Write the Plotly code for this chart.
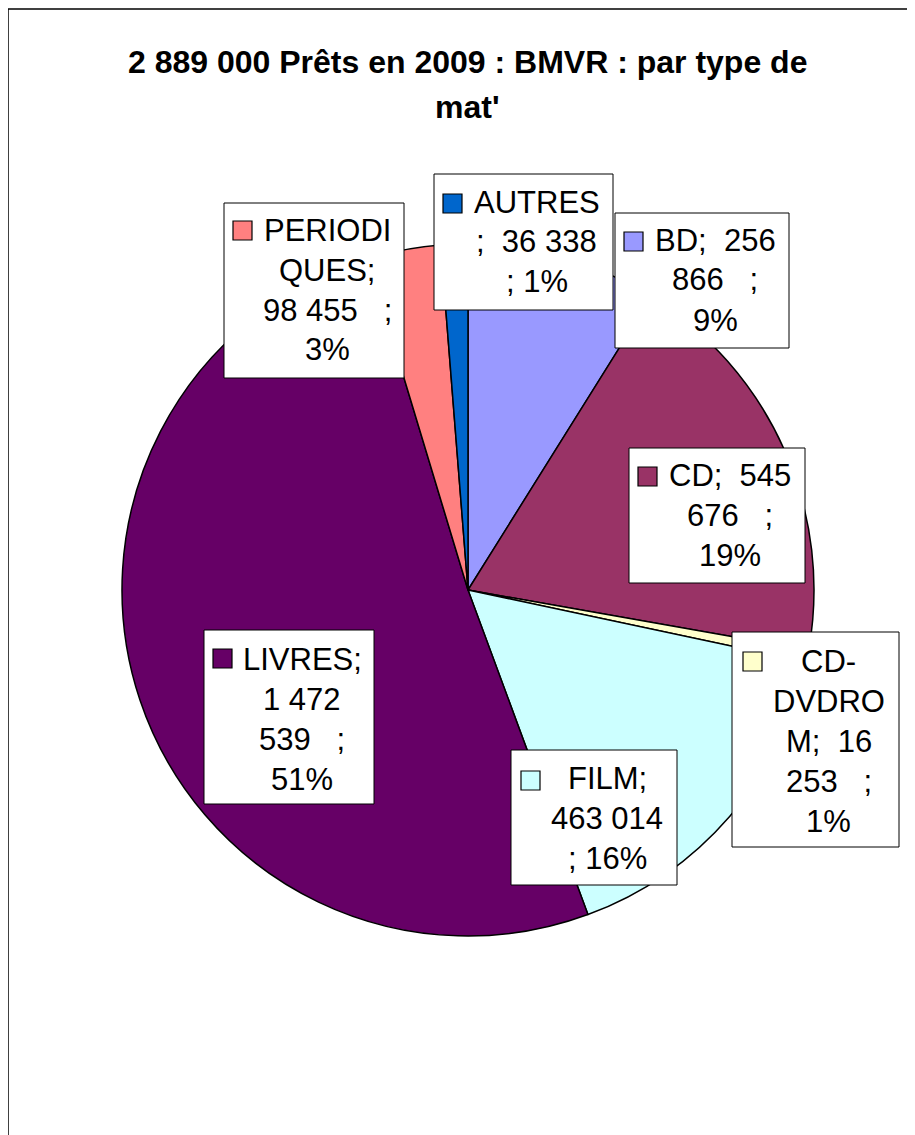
import plotly.graph_objects as go

# ---- data ----
categories = ["BD", "CD", "CD-DVDROM", "FILM", "LIVRES", "PERIODIQUES", "AUTRES"]
values = [256866, 545676, 16253, 463014, 1472539, 98455, 36338]
colors = ["#9999FF", "#993366", "#FFFFCC", "#CCFFFF", "#660066", "#FF8080", "#0066CC"]
title_lines = ["2 889 000 Prêts en 2009 : BMVR : par type de", "mat'"]

NB = "\u00a0"
# wrapped data-label lines (as shown in the original)
label_lines = {
    "BD": ["BD;" + NB * 2 + "256", "866" + NB * 3 + ";", "9%"],
    "CD": ["CD;" + NB * 2 + "545", "676" + NB * 3 + ";", "19%"],
    "CD-DVDROM": ["CD-", "DVDRO", "M;" + NB * 2 + "16", "253" + NB * 3 + ";", "1%"],
    "FILM": ["FILM;", "463 014", "; 16%"],
    "LIVRES": ["LIVRES;", "1 472", "539" + NB * 3 + ";", "51%"],
    "PERIODIQUES": ["PERIODI", "QUES;", "98 455" + NB * 3 + ";", "3%"],
    "AUTRES": ["AUTRES", ";" + NB * 2 + "36 338", "; 1%"],
}

# ---- layout geometry (page pixels; the page body adds an 8px offset) ----
OFF = 8
W, H = 915 - OFF, 1135 - OFF
cx, cy, r = 468, 590, 346

# label boxes: x0, y0, x1, y1 ; key square top-left
boxes = {
    "PERIODIQUES": (224, 203, 404, 378, 233, 221),
    "AUTRES": (434, 174, 613, 310, 443, 194),
    "BD": (615, 213, 789, 348, 624, 232),
    "CD": (629, 448, 805, 583, 638, 467),
    "LIVRES": (204, 630, 374, 804, 213, 649),
    "FILM": (511, 750, 677, 885, 521, 771),
    "CD-DVDROM": (732, 632, 899, 847, 743, 652),
}
# vertical centre of first text line
first_line_y = {
    "PERIODIQUES": 230, "AUTRES": 202, "BD": 240, "CD": 475,
    "LIVRES": 659, "FILM": 778, "CD-DVDROM": 661,
}


def px(x):
    return (x - OFF) / W


def py(y):
    return 1 - (y - OFF) / H


fig = go.Figure()
fig.add_trace(go.Pie(
    labels=categories,
    values=values,
    sort=False,
    direction="clockwise",
    rotation=0,
    marker=dict(colors=colors, line=dict(color="#000000", width=1.5)),
    textinfo="none",
    hoverinfo="label+value+percent",
    domain=dict(x=[px(cx - r), px(cx + r)], y=[py(cy + r), py(cy - r)]),
    showlegend=False,
))

shapes = []
annotations = []
LINE_H = 40
FS = 31
FONT = "Liberation Sans, Arial, sans-serif"
for cat, col in zip(categories, colors):
    x0, y0, x1, y1, sx, sy = boxes[cat]
    shapes.append(dict(type="rect", xref="paper", yref="paper",
                       x0=px(x0), x1=px(x1), y0=py(y1), y1=py(y0),
                       fillcolor="#FFFFFF", line=dict(color="#000000", width=1),
                       layer="above"))
    shapes.append(dict(type="rect", xref="paper", yref="paper",
                       x0=px(sx), x1=px(sx + 19), y0=py(sy + 19), y1=py(sy),
                       fillcolor=col, line=dict(color="#000000", width=1.2),
                       layer="above"))
    tx = (x0 + x1) / 2 + 13
    for i, line in enumerate(label_lines[cat]):
        annotations.append(dict(
            xref="paper", yref="paper", x=px(tx), y=py(first_line_y[cat] + i * LINE_H),
            xanchor="center", yanchor="middle", showarrow=False,
            text=line, font=dict(family=FONT, size=FS, color="#000000"),
        ))

# title (two lines)
for line, ty in zip(title_lines, [62, 107]):
    annotations.append(dict(
        xref="paper", yref="paper", x=px(467), y=py(ty), xanchor="center", yanchor="middle",
        showarrow=False, text="<b>" + line + "</b>",
        font=dict(family=FONT, size=32, color="#000000"),
    ))

# outer chart border (top and left edges visible)
shapes.append(dict(type="line", xref="paper", yref="paper", x0=px(8), x1=1.0, y0=py(9), y1=py(9),
                   line=dict(color="#000000", width=1.5)))
shapes.append(dict(type="line", xref="paper", yref="paper", x0=px(8), x1=px(8), y0=py(9), y1=0.0,
                   line=dict(color="#000000", width=1.5)))

fig.update_layout(
    width=W, height=H,
    margin=dict(l=0, r=0, t=0, b=0),
    paper_bgcolor="#FFFFFF", plot_bgcolor="#FFFFFF",
    shapes=shapes, annotations=annotations,
)

fig.write_html("out.html")
